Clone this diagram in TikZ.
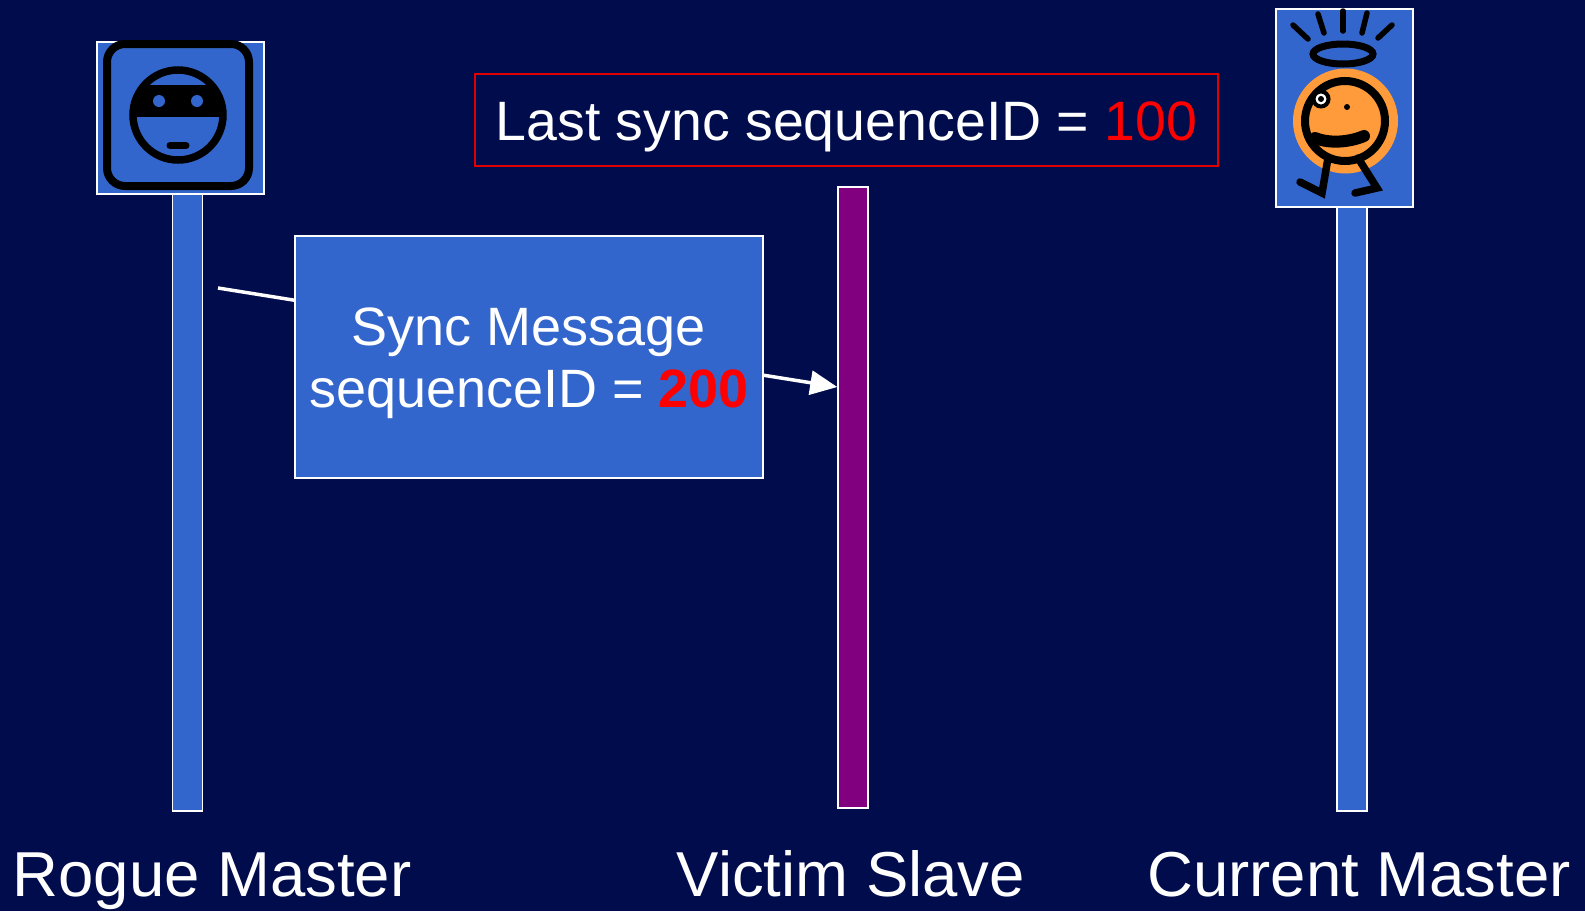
\documentclass[tikz,border=0pt]{standalone}
\usepackage{fontspec}
\setmainfont{Liberation Sans}
\usepackage{tikz}
\usetikzlibrary{arrows.meta, positioning}
\usepackage{xcolor}
\definecolor{cBack}{HTML}{000C4C}
\definecolor{cBlue}{HTML}{3366CC}
\definecolor{cSlave}{HTML}{800080}
\definecolor{cFace}{HTML}{FF9B3A}
\definecolor{cRed}{HTML}{FF0000}
\definecolor{cFrame}{HTML}{E00000}
\newcommand{\bigfont}{\fontsize{63.5}{70}\selectfont}
\newcommand{\boxfont}{\fontsize{54}{62}\selectfont}
\newcommand{\idfont}{\fontsize{55.5}{62}\selectfont}

\begin{document}
\begin{tikzpicture}[
  x=1pt, y=-1pt,
  >=Stealth,
  lifeline/.style = {rectangle, draw=white, line width=1.5pt, inner sep=0pt,
                     minimum width=30pt},
  iconbox/.style  = {rectangle, draw=white, line width=2pt, fill=cBlue,
                     inner sep=0pt},
  msgbox/.style   = {rectangle, draw=white, line width=2pt, fill=cBlue,
                     inner sep=0pt, minimum width=468pt, minimum height=242pt},
  idbox/.style    = {rectangle, draw=cFrame, line width=2pt, fill=cBack,
                     inner sep=0pt, minimum width=743pt, minimum height=92pt},
  boxtext/.style  = {text=white, align=center, font=\boxfont, inner sep=0pt},
  actor/.style    = {text=white, font=\bigfont, anchor=base, inner sep=0pt},
  msg/.style      = {white, line width=3.5pt,
                     -{Triangle[length=27pt, width=24pt]}},
  ink/.style      = {line width=#1, line cap=round}]

\useasboundingbox (0,0) rectangle (1585,911);
\fill[cBack] (0,0) rectangle (1585,911);

% ---- lifelines ------------------------------------------------------------
\node[lifeline, fill=cBlue, minimum height=617pt] (rogue)   at (187.5,502.5) {};
\node[lifeline, fill=cSlave, minimum height=621pt] (victim) at (853,497.5) {};
\node[lifeline, fill=cBlue, minimum height=604pt] (current) at (1352,509) {};

% ---- actor icons ----------------------------------------------------------
\node[iconbox, minimum width=167pt, minimum height=152pt] (rogueicon)
  at (180.5,118) {};
\node[iconbox, minimum width=137pt, minimum height=198pt] (currenticon)
  at (1344.5,108) {};

% masked face
\draw[ink=8pt, rounded corners=18pt] (107,44) rectangle (249,186);
\begin{scope}
  \clip (178,115) circle (45pt);
  \fill (120,85) rectangle (240,117);
\end{scope}
\draw[line width=7.5pt] (178,115) circle (45pt);
\fill[cBlue] (159,101) circle (6pt) (197,101) circle (6pt);
\draw[ink=7pt] (170,145.5) -- (186,145.5);

% haloed face
\foreach \xa/\ya/\xb/\yb in {1293/25/1308/39, 1318/14/1324/33, 1343/11/1343/31,
                             1367/13/1362/33, 1392/25/1378/38}
  \draw[ink=5.5pt] (\xa,\ya) -- (\xb,\yb);
\draw[line width=7pt] (1343,54) ellipse [x radius=30pt, y radius=10pt];
\fill[cFace] (1345.5,121) circle (52.5pt);
\draw[line width=8pt] (1345,121) circle (40pt);
\draw[line width=4pt, fill=white] (1321,99) circle (7.5pt);
\fill (1321,99) circle (3pt) (1347,107) circle (3pt);
\draw[ink=12pt] (1315,138) .. controls (1330,144) and (1350,142) .. (1364,136);
\draw[ink=7.5pt] (1328,158) -- (1322,193) -- (1300,182);
\draw[ink=7.5pt] (1358,158) -- (1377,188) -- (1355,193);

% ---- sync message ---------------------------------------------------------
\coordinate (msgstart) at (218,288);
\coordinate (msgend) at (victim.west |- 0,387);
\draw[msg] (msgstart) -- (msgend);

\node[msgbox] (syncmsg) at (529,357) {};
\node[boxtext] (synctext) at ([yshift=-6pt]syncmsg.center)
  {Sync Message\\ sequenceID = \textcolor{cRed}{\textbf{200}}};

\node[idbox] (lastsync) at (846.5,120) {};
\node[boxtext, font=\idfont] (lasttext) at ([yshift=-7pt]lastsync.center)
  {Last sync sequenceID = \textcolor{cRed}{100}};

% ---- actor names ----------------------------------------------------------
\node[actor] (roguename)   at (212,896)  {Rogue Master};
\node[actor] (victimname)  at (851,896)  {Victim Slave};
\node[actor] (currentname) at (1359,896) {Current Master};

\end{tikzpicture}
\end{document}
